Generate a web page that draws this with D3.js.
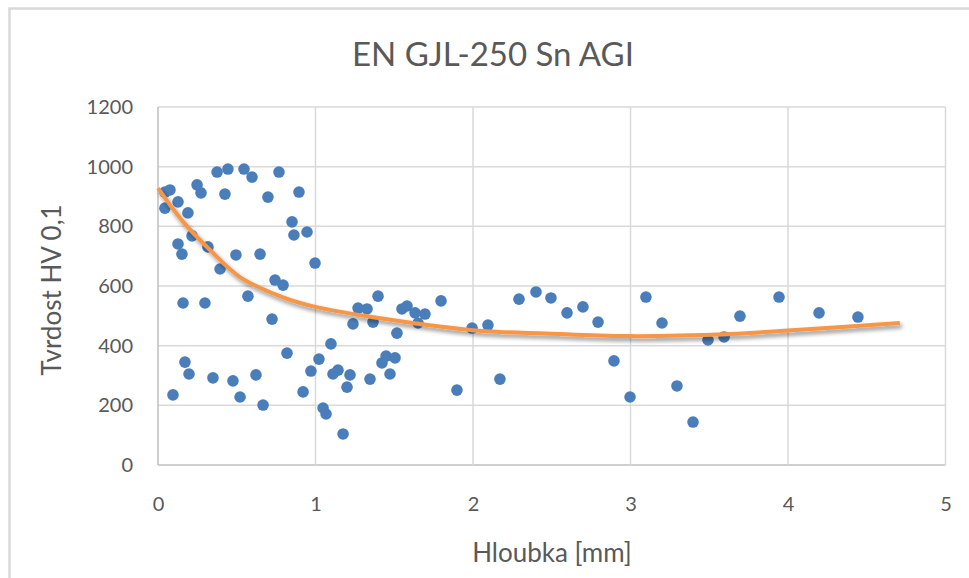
<!DOCTYPE html>
<html><head><meta charset="utf-8">
<script src="https://cdn.jsdelivr.net/npm/d3@7"></script>
<style>body{margin:0;background:#fff;} svg{display:block;}</style>
</head><body>
<svg id="chart" width="969" height="578"></svg>
<script>
const title = "EN GJL-250 Sn AGI";
const xTitle = "Hloubka [mm]";
const yTitle = "Tvrdost HV 0,1";
const xTicks = [0, 1, 2, 3, 4, 5];
const yTicks = [0, 200, 400, 600, 800, 1000, 1200];

const depth = [0.044,0.076,0.044,0.127,0.19,0.248,0.273,0.425,0.375,0.444,0.546,0.597,0.768,0.698,0.895,0.851,0.863,0.946,0.997,0.216,0.127,0.152,0.317,0.495,0.648,0.394,0.743,0.794,0.571,
0.159,0.298,0.724,0.171,0.197,0.349,0.476,0.622,0.095,0.521,0.667,0.819,0.921,0.971,1.022,1.048,1.067,
1.397,1.27,1.327,1.365,1.238,1.549,1.581,1.632,1.695,1.651,1.517,1.797,1.994,2.095,1.098,1.143,1.111,1.219,1.2,1.346,1.448,1.505,1.422,1.473,1.175,1.898,2.171,
2.292,2.4,2.495,2.597,2.698,2.794,2.895,2.997,3.098,3.2,3.295,3.397,3.492,3.594,3.695,3.943,4.197,4.444];
const hardness = [915,922,861,882,845,939,912,908,982,992,992,965,982,898,915,815,771,781,677,768,741,707,731,704,707,657,620,603,566,
543,543,489,345,305,292,282,302,235,228,201,375,245,315,355,191,171,
566,526,523,479,473,523,533,510,506,476,442,550,459,469,406,318,305,302,261,288,365,359,342,305,104,251,288,
556,580,560,510,530,479,349,228,563,476,265,144,419,429,499,563,510,496];

const trendX = [0, 0.16, 0.33, 0.52, 0.79, 1.0, 1.36, 2.0, 2.55, 3.0, 3.63, 3.95, 4.71];
const trendY = [928, 815, 721, 630, 563, 530, 496, 452, 439, 432, 439, 449, 476];

const svg = d3.select("#chart");
const m = {left: 158, right: 945.5, top: 107, bottom: 465};
const fontMain = "Lato, Carlito, Calibri, sans-serif";

const x = d3.scaleLinear().domain([0, 5]).range([m.left, m.right]);
const y = d3.scaleLinear().domain([0, 1200]).range([m.bottom, m.top]);

// outer border
svg.append("rect").attr("x", 9.5).attr("y", 8.5).attr("width", 1000).attr("height", 600)
  .attr("fill", "#fff").attr("stroke", "#d9d9d9").attr("stroke-width", 2.5);

const defs = svg.append("defs");
const f = defs.append("filter").attr("id", "shadow").attr("x", "-10%").attr("y", "-50%").attr("width", "120%").attr("height", "200%");
f.append("feGaussianBlur").attr("in", "SourceAlpha").attr("stdDeviation", 2.2).attr("result", "b");
f.append("feOffset").attr("in", "b").attr("dx", 1.5).attr("dy", 3).attr("result", "o");
f.append("feComponentTransfer").attr("in", "o").attr("result", "s")
  .append("feFuncA").attr("type", "linear").attr("slope", 0.45);
const fm = f.append("feMerge");
fm.append("feMergeNode").attr("in", "s");
fm.append("feMergeNode").attr("in", "SourceGraphic");

// gridlines
const g = svg.append("g");
g.selectAll(".hg").data(yTicks).join("line")
  .attr("x1", m.left).attr("x2", m.right)
  .attr("y1", d => y(d)).attr("y2", d => y(d))
  .attr("stroke", d => d === 0 ? "#bfbfbf" : "#d9d9d9").attr("stroke-width", 1.5);
g.selectAll(".vg").data(xTicks).join("line")
  .attr("y1", m.top).attr("y2", m.bottom)
  .attr("x1", d => x(d)).attr("x2", d => x(d))
  .attr("stroke", d => d === 0 ? "#bfbfbf" : "#d9d9d9").attr("stroke-width", 1.5);

// axis labels via d3 axes (no lines)
const xa = svg.append("g").attr("transform", `translate(0,${m.bottom})`)
  .call(d3.axisBottom(x).tickValues(xTicks).tickSize(0).tickPadding(32).tickFormat(d3.format("d")));
const ya = svg.append("g").attr("transform", `translate(${m.left},0)`)
  .call(d3.axisLeft(y).tickValues(yTicks).tickSize(0).tickPadding(25).tickFormat(d3.format("d")));
[xa, ya].forEach(a => {
  a.select(".domain").remove();
  a.selectAll("text").attr("font-family", fontMain).attr("font-size", 20).attr("fill", "#595959");
});

// points
svg.append("g").selectAll("circle").data(depth.map((d, i) => [d, hardness[i]])).join("circle")
  .attr("cx", d => x(d[0])).attr("cy", d => y(d[1])).attr("r", 5.8)
  .attr("fill", "#4a7ebb");

// trendline
const line = d3.line().x(d => x(d[0])).y(d => y(d[1])).curve(d3.curveCatmullRom.alpha(0.5));
svg.append("path").datum(trendX.map((d, i) => [d, trendY[i]]))
  .attr("d", line).attr("fill", "none").attr("stroke", "#f79646")
  .attr("stroke-width", 4).attr("stroke-linecap", "butt").attr("filter", "url(#shadow)");

// titles
svg.append("text").attr("x", 493).attr("y", 66).attr("text-anchor", "middle")
  .attr("font-family", fontMain).attr("font-size", 33).attr("fill", "#595959").text(title);
svg.append("text").attr("x", 552).attr("y", 562).attr("text-anchor", "middle")
  .attr("font-family", fontMain).attr("font-size", 26).attr("fill", "#595959").text(xTitle);
svg.append("text").attr("transform", "translate(61,290) rotate(-90)").attr("text-anchor", "middle")
  .attr("font-family", fontMain).attr("font-size", 26).attr("fill", "#595959").text(yTitle);
</script>
</body></html>
